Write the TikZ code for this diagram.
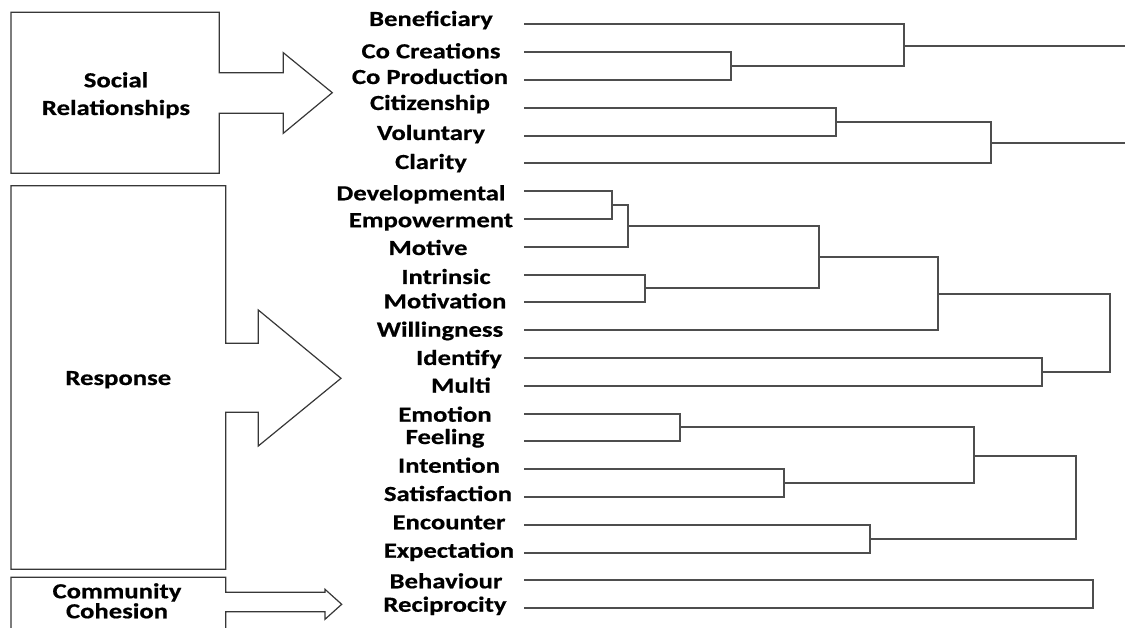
\documentclass[tikz,border=0pt]{standalone}
\usepackage{fontspec}
\newfontfamily\lblfont[FakeStretch=1.24, FakeBold=0.6]{Carlito}
\newcommand\tightlines{\lineskiplimit=-50pt\relax\lineskip=0pt\relax}
\definecolor{treeline}{RGB}{78,78,78}
\definecolor{boxline}{RGB}{55,55,55}
\tikzset{
  tree/.style={draw=treeline, line width=2pt, line join=miter},
  panel/.style={draw=boxline, line width=1.2pt, fill=white, line join=miter},
  lbl/.style={inner sep=0pt, anchor=base, font=\lblfont\bfseries\fontsize{21.5}{27.7}\selectfont},
  grouplbl/.style={inner sep=0pt, anchor=base, align=center, font=\lblfont\bfseries\fontsize{21.5}{27.7}\selectfont},
  tightlbl/.style={grouplbl, font=\lblfont\bfseries\fontsize{21.5}{20}\selectfont\tightlines},
}
\begin{document}
\begin{tikzpicture}[x=1pt, y=-1pt]
\useasboundingbox (0,0) rectangle (1125,628);
\clip (0,0) rectangle (1125,628);

% group panels with their arrows
\draw[panel] (219.3,12.3) -- (11,12.3) -- (11,173.3) -- (219.3,173.3) -- (219.3,113.3)
  -- (283.3,113.3) -- (283.3,133.3) -- (332.3,92.7) -- (283.3,52.7) -- (283.3,72.7)
  -- (219.3,72.7) -- cycle;
\node[grouplbl] (social) at (116,115) {Social\\Relationships};

\draw[panel] (225.7,185.7) -- (11,185.7) -- (11,569.3) -- (225.7,569.3) -- (225.7,412.3)
  -- (258.3,412.3) -- (258.3,446) -- (341,378.3) -- (258.3,310) -- (258.3,343.3)
  -- (225.7,343.3) -- cycle;
\node[lbl] (response) at (118.3,385) {Response};

\draw[panel] (225.7,577.3) -- (11,577.3) -- (11,640) -- (225.7,640) -- (225.7,611.7)
  -- (325,611.7) -- (325,619.3) -- (341.7,604.3) -- (325,589.3) -- (325,592.3)
  -- (225.7,592.3) -- cycle;
\node[tightlbl] (community) at (117,618.3) {Community\\Cohesion};

% leaves: name / line y / label / label centre x / label baseline
\foreach \n/\y/\t/\cx/\b in {
  ben/24/Beneficiary/431/26,
  coc/52/Co Creations/431/58.3,
  cop/80/Co Production/430/84,
  cit/108/Citizenship/430/110,
  vol/136/Voluntary/431/140,
  cla/163/Clarity/431/169,
  dev/191/Developmental/421/200.3,
  emp/219/Empowerment/431/227.2,
  mot/247/Motive/428/255,
  int/275/Intrinsic/446/284,
  mtv/302/Motivation/445/308.3,
  wil/330/Willingness/440/336.7,
  ide/358/Identify/459/365,
  mul/386/Multi/461/392.7,
  emo/414/Emotion/445/421.7,
  fee/441/Feeling/445/444,
  itn/469/Intention/449/472.7,
  sat/497/Satisfaction/448/501,
  enc/525/Encounter/449/529.3,
  exp/553/Expectation/449/557.7,
  beh/580/Behaviour/446/588.3,
  rec/608/Reciprocity/445/611.7}
{
  \coordinate (\n) at (524,\y);
  \node[lbl] (t-\n) at (\cx,\b) {\t};
}

% merge points: x = joining height, y = outgoing branch
\coordinate (m1) at (731,66);
\coordinate (m2) at (904,46);
\coordinate (r1) at (1130,46);
\coordinate (m3) at (836,122);
\coordinate (m4) at (991,143);
\coordinate (r2) at (1130,143);
\coordinate (m5) at (612,205);
\coordinate (m6) at (628,226);
\coordinate (m7) at (645,288);
\coordinate (m8) at (819,257);
\coordinate (m9) at (938,294);
\coordinate (m10) at (1042,372);
\coordinate (m11) at (1110,333);
\coordinate (m12) at (680,427);
\coordinate (m13) at (784,483);
\coordinate (m14) at (974,456);
\coordinate (m15) at (870,539);
\coordinate (m16) at (1076,497);
\coordinate (m17) at (1093,594);

% dendrogram branches
\draw[tree] (coc) -| (m1) |- (cop);
\draw[tree] (ben) -| (m2) |- (m1);
\draw[tree] (m2) -- (r1);
\draw[tree] (cit) -| (m3) |- (vol);
\draw[tree] (m3) -| (m4) |- (cla);
\draw[tree] (m4) -- (r2);
\draw[tree] (dev) -| (m5) |- (emp);
\draw[tree] (m5) -| (m6) |- (mot);
\draw[tree] (int) -| (m7) |- (mtv);
\draw[tree] (m6) -| (m8) |- (m7);
\draw[tree] (m8) -| (m9) |- (wil);
\draw[tree] (ide) -| (m10) |- (mul);
\draw[tree] (m9) -| (m11) |- (m10);
\draw[tree] (emo) -| (m12) |- (fee);
\draw[tree] (itn) -| (m13) |- (sat);
\draw[tree] (m12) -| (m14) |- (m13);
\draw[tree] (enc) -| (m15) |- (exp);
\draw[tree] (m14) -| (m16) |- (m15);
\draw[tree] (beh) -| (m17) |- (rec);
\end{tikzpicture}
\end{document}
